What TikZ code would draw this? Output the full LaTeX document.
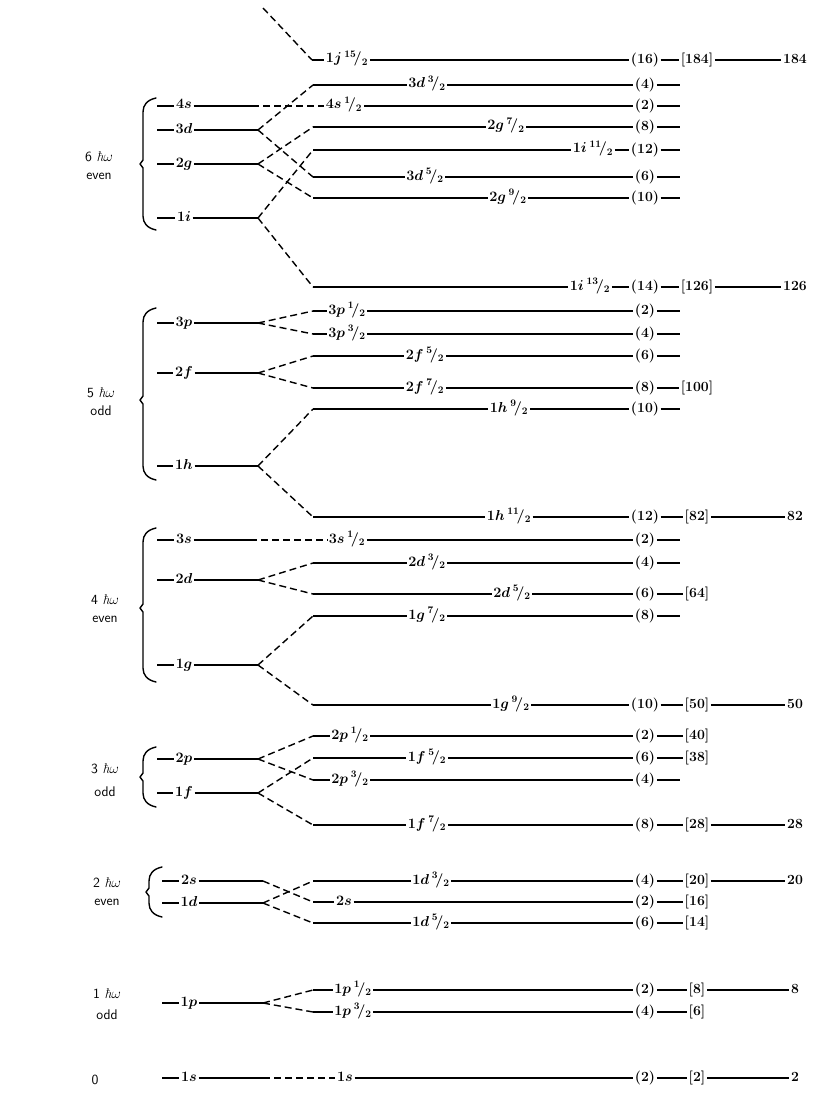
\documentclass[tikz,border=0pt]{standalone}
\usepackage{amsmath}
\usepackage{fontspec}
\newcommand\Hfr[2]{\,{}^{#1}\!/{}_{#2}}
\newcommand\Hw{{\rmfamily\itshape ħ}$\omega$}
\tikzset{
  lvl/.style={line width=1.7pt},
  spl/.style={line width=1.4pt, dash pattern=on 7pt off 4pt},
  brc/.style={line width=1.4pt, line cap=round, line join=round},
  lab/.style={inner sep=1.5pt, text height=9pt, text depth=3pt, font=\fontsize{14}{16}\selectfont\boldmath},
  num/.style={inner sep=1.5pt, text height=9.5pt, text depth=3pt, font=\fontsize{14}{16}\selectfont\bfseries},
  hw/.style={inner sep=0pt, align=center, font=\fontsize{14}{18}\selectfont\sffamily},
}
% right level: name, y, label x, label, occupancy
\newcommand\Rlev[5]{\node[lab] (#1) at (#3,#2) {$#4$};
  \node[num] (#1o) at (645,#2) {(#5)};
  \draw[lvl] (#1.east) -- (#1o.west);}
\newcommand\Rst[2]{\coordinate (#1s) at (313,#2); \draw[lvl] (#1s) -- (#1.west);}
\newcommand\Dsh[2]{\coordinate (#1d) at (680,#2); \draw[lvl] (#1o.east) -- (#1d);}
\newcommand\Brk[3]{\node[num] (#1b) at (697,#2) {[#3]}; \draw[lvl] (#1o.east) -- (#1b.west);}
\newcommand\Magn[3]{\node[num] (#1m) at (795,#2) {#3}; \draw[lvl] (#1b.east) -- (#1m.west);}
% left level: name, y, dash x, label x, text
\newcommand\Llev[5]{\coordinate (#1a) at (#3,#2);
  \node[lab] (#1) at (#4,#2) {$#5$};
  \draw[lvl] (#1a) -- (#1.west);}
\newcommand\Lsp[3]{\coordinate (#1p) at (#3,#2); \draw[lvl] (#1.east) -- (#1p);}
% brace: x, top, bottom, mid
\newcommand\Bbrace[4]{\draw[brc] (#1+14,#2) .. controls (#1+5,#2+2) and (#1+1,#2+7) .. (#1+1,#2+14) -- (#1+1,#4-4) -- (#1-2,#4) -- (#1+1,#4+4) -- (#1+1,#3-14) .. controls (#1+1,#3-7) and (#1+5,#3-2) .. (#1+14,#3);}
\begin{document}
\begin{tikzpicture}[x=1pt,y=-1pt]
\useasboundingbox (0,0) rectangle (830,1097);

% ---------------- 6 hbar omega
\node[hw] (h6) at (99,166) {6 \Hw\\even};
\Bbrace{142}{98}{230}{164}

\Rlev{rjf}{60}{347}{1j\Hfr{15}{2}}{16}
\coordinate (rjfs) at (312,60); \draw[lvl] (rjfs) -- (rjf.west);
\coordinate (jtop) at (263,8);
\draw[spl] (jtop) -- (rjfs);
\Brk{rjf}{60}{184} \Magn{rjf}{60}{184}

\Rlev{rdc}{85}{427}{3d\Hfr{3}{2}}{4} \Rst{rdc}{85} \Dsh{rdc}{85}
\Rlev{rsd}{106}{344}{4s\Hfr{1}{2}}{2} \Dsh{rsd}{106}
\Rlev{rgg}{127}{506}{2g\Hfr{7}{2}}{8} \Rst{rgg}{127} \Dsh{rgg}{127}
\Rlev{ria}{150}{593}{1i\Hfr{11}{2}}{12} \Rst{ria}{150} \Dsh{ria}{150}
\Rlev{rde}{177}{425}{3d\Hfr{5}{2}}{6} \Rst{rde}{177} \Dsh{rde}{177}
\Rlev{rgi}{198}{508}{2g\Hfr{9}{2}}{10} \Rst{rgi}{198} \Dsh{rgi}{198}
\Rlev{rib}{287}{590}{1i\Hfr{13}{2}}{14} \Rst{rib}{287}
\Brk{rib}{287}{126} \Magn{rib}{287}{126}

\Llev{lfs}{106}{157}{184}{4s}
\coordinate (lfsp) at (252,106); \draw[lvl] (lfs.east) -- (lfsp);
\draw[spl] (lfsp) -- (rsd.west);
\Llev{ltd}{130}{157}{184}{3d} \Lsp{ltd}{130}{258}
\Llev{ltg}{164}{157}{184}{2g} \Lsp{ltg}{164}{258}
\Llev{loi}{218}{157}{184}{1i} \Lsp{loi}{218}{258}
\draw[spl] (ltdp) -- (rdcs); \draw[spl] (ltdp) -- (rdes);
\draw[spl] (ltgp) -- (rggs); \draw[spl] (ltgp) -- (rgis);
\draw[spl] (loip) -- (rias); \draw[spl] (loip) -- (ribs);

% ---------------- 5 hbar omega
\node[hw] (h5) at (101,402) {5 \Hw\\odd};
\Bbrace{142}{308}{480}{400}

\Rlev{rpa}{311}{347}{3p\Hfr{1}{2}}{2} \Rst{rpa}{311} \Dsh{rpa}{311}
\Rlev{rpc}{334}{347}{3p\Hfr{3}{2}}{4} \Rst{rpc}{334} \Dsh{rpc}{334}
\Rlev{rfe}{356}{425}{2f\Hfr{5}{2}}{6} \Rst{rfe}{356} \Dsh{rfe}{356}
\Rlev{rfg}{388}{425}{2f\Hfr{7}{2}}{8} \Rst{rfg}{388} \Brk{rfg}{388}{100}
\Rlev{rhi}{409}{509}{1h\Hfr{9}{2}}{10} \Rst{rhi}{409} \Dsh{rhi}{409}
\Rlev{rhk}{517}{509}{1h\Hfr{11}{2}}{12} \Rst{rhk}{517}
\Brk{rhk}{517}{82} \Magn{rhk}{517}{82}

\Llev{ltp}{323}{157}{184}{3p} \Lsp{ltp}{323}{258}
\Llev{ltf}{373}{157}{184}{2f} \Lsp{ltf}{373}{258}
\Llev{loh}{466}{157}{184}{1h} \Lsp{loh}{466}{258}
\draw[spl] (ltpp) -- (rpas); \draw[spl] (ltpp) -- (rpcs);
\draw[spl] (ltfp) -- (rfes); \draw[spl] (ltfp) -- (rfgs);
\draw[spl] (lohp) -- (rhis); \draw[spl] (lohp) -- (rhks);

% ---------------- 4 hbar omega
\node[hw] (h4) at (105,609) {4 \Hw\\even};
\Bbrace{142}{528}{682}{608}

\Rlev{rsa}{540}{347}{3s\Hfr{1}{2}}{2} \Dsh{rsa}{540}
\Rlev{rdb}{563}{427}{2d\Hfr{3}{2}}{4} \Rst{rdb}{563} \Dsh{rdb}{563}
\Rlev{rdf}{594}{512}{2d\Hfr{5}{2}}{6} \Rst{rdf}{594} \Brk{rdf}{594}{64}
\Rlev{rga}{616}{427}{1g\Hfr{7}{2}}{8} \Rst{rga}{616} \Dsh{rga}{616}
\Rlev{rgb}{705}{511}{1g\Hfr{9}{2}}{10} \Rst{rgb}{705}
\Brk{rgb}{705}{50} \Magn{rgb}{705}{50}

\Llev{lts}{540}{157}{184}{3s}
\coordinate (ltsp) at (250,540); \draw[lvl] (lts.east) -- (ltsp);
\draw[spl] (ltsp) -- (rsa.west);
\Llev{ldd}{580}{157}{184}{2d} \Lsp{ldd}{580}{258}
\Llev{log}{665}{157}{184}{1g} \Lsp{log}{665}{258}
\draw[spl] (lddp) -- (rdbs); \draw[spl] (lddp) -- (rdfs);
\draw[spl] (logp) -- (rgas); \draw[spl] (logp) -- (rgbs);

% ---------------- 3 hbar omega
\node[hw,font=\fontsize{14}{23}\selectfont\sffamily] (h3) at (105,780) {3 \Hw\\odd};
\Bbrace{142}{747}{807}{777}

\Rlev{rqa}{736}{350}{2p\Hfr{1}{2}}{2} \Rst{rqa}{736} \Brk{rqa}{736}{40}
\Rlev{rfa}{758}{427}{1f\Hfr{5}{2}}{6} \Rst{rfa}{758} \Brk{rfa}{758}{38}
\Rlev{rqc}{780}{350}{2p\Hfr{3}{2}}{4} \Rst{rqc}{780} \Dsh{rqc}{780}
\Rlev{rfb}{825}{427}{1f\Hfr{7}{2}}{8} \Rst{rfb}{825}
\Brk{rfb}{825}{28} \Magn{rfb}{825}{28}

\Llev{ldp}{759}{157}{184}{2p} \Lsp{ldp}{759}{258}
\Llev{lof}{793}{157}{184}{1f} \Lsp{lof}{793}{258}
\draw[spl] (ldpp) -- (rqas); \draw[spl] (ldpp) -- (rqcs);
\draw[spl] (lofp) -- (rfas); \draw[spl] (lofp) -- (rfbs);

% ---------------- 2 hbar omega
\node[hw] (h2) at (107,892) {2 \Hw\\even};
\Bbrace{148}{867}{917}{892}

\Rlev{rda}{881}{431}{1d\Hfr{3}{2}}{4} \Rst{rda}{881}
\Brk{rda}{881}{20} \Magn{rda}{881}{20}
\Rlev{rss}{902}{344}{2s}{2} \Rst{rss}{902} \Brk{rss}{902}{16}
\Rlev{rdx}{923}{431}{1d\Hfr{5}{2}}{6} \Rst{rdx}{923} \Brk{rdx}{923}{14}

\Llev{lds}{881}{162}{189}{2s} \Lsp{lds}{881}{263}
\Llev{lod}{903}{162}{189}{1d} \Lsp{lod}{903}{263}
\draw[spl] (ldsp) -- (rsss);
\draw[spl] (lodp) -- (rdas); \draw[spl] (lodp) -- (rdxs);

% ---------------- 1 hbar omega
\node[hw,font=\fontsize{14}{21}\selectfont\sffamily] (h1) at (107,1004) {1 \Hw\\odd};

\Rlev{rpp}{990}{353}{1p\Hfr{1}{2}}{2} \Rst{rpp}{990}
\Brk{rpp}{990}{8} \Magn{rpp}{990}{8}
\Rlev{rpq}{1012}{353}{1p\Hfr{3}{2}}{4} \Rst{rpq}{1012} \Brk{rpq}{1012}{6}

\Llev{lop}{1003}{162}{189}{1p} \Lsp{lop}{1003}{263}
\draw[spl] (lopp) -- (rpps); \draw[spl] (lopp) -- (rpqs);

% ---------------- 0
\node[hw] (h0) at (95,1080) {0};
\Rlev{rsz}{1078}{345}{1s}{2}
\Brk{rsz}{1078}{2} \Magn{rsz}{1078}{2}
\Llev{los}{1078}{162}{189}{1s}
\coordinate (losp) at (263,1078); \draw[lvl] (los.east) -- (losp);
\draw[spl] (losp) -- (rsz.west);
\end{tikzpicture}
\end{document}
